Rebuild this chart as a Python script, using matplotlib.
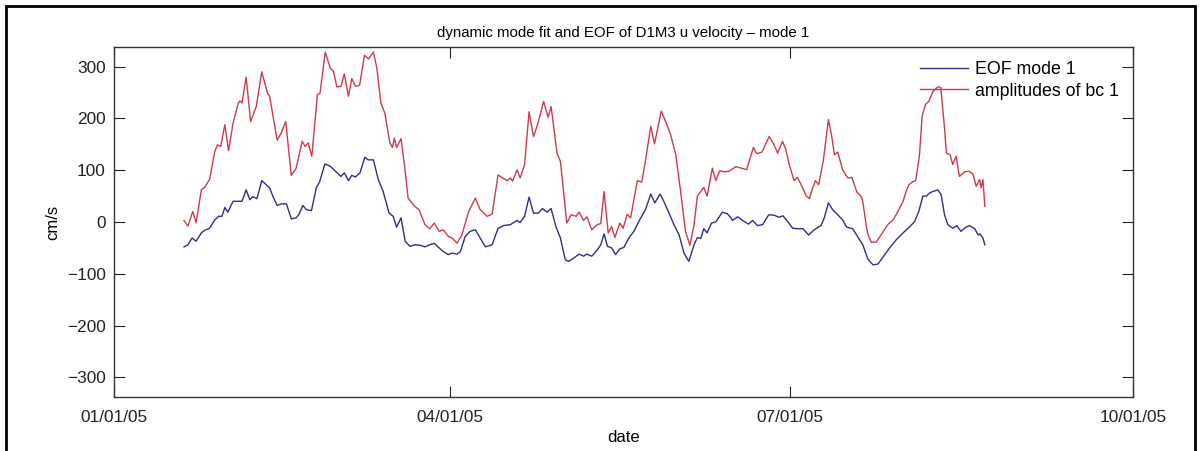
import datetime as dt
import matplotlib
matplotlib.use("Agg")
import matplotlib.pyplot as plt
import matplotlib.dates as mdates
from matplotlib.patches import Rectangle

plt.rcParams['font.family'] = ['Liberation Sans', 'DejaVu Sans']

title = "dynamic mode fit and EOF of D1M3 u velocity \u2013 mode 1"
series_names = ["EOF mode 1", "amplitudes of bc 1"]
xtick_dates = ["2005-01-01", "2005-04-01", "2005-07-01", "2005-10-01"]
yticks = [-300, -200, -100, 0, 100, 200, 300]

# days since 2005-01-01
eof_days = [18.75, 19.8, 20.9, 22.0, 23.4, 24.3, 25.6, 27.0, 28.0, 28.9, 29.7, 30.5, 31.9, 33.0,
            34.3, 35.4, 36.4, 37.2, 38.3, 39.6, 40.8, 41.7, 42.6, 43.7, 44.8, 46.2, 47.5, 48.8,
            49.5, 50.6, 51.5, 52.9, 54.2, 55.1, 56.5, 57.9, 59.2, 60.8, 61.7, 62.8, 63.7, 64.7,
            65.9, 67.2, 68.1, 69.5, 70.8, 72.1, 73.7, 74.8, 75.7, 76.9, 78.0, 79.3, 80.6, 82.0,
            83.3, 84.6, 85.8, 87.1, 88.2, 89.6, 90.6, 91.9, 92.8, 94.1, 95.4, 96.8, 98.1, 99.5,
            101.3, 102.9, 104.4, 106.2, 108.0, 108.8, 110.0, 111.2, 112.4, 113.6, 114.8, 116.0,
            117.1, 118.4, 119.6, 120.9, 121.8, 123.1, 124.6, 125.8, 126.7, 128.0, 129.5, 130.4,
            131.3, 132.2, 133.3, 134.4, 135.5, 136.6, 138.0, 139.3, 140.6, 142.4, 143.8, 144.9,
            146.3, 147.3, 148.7, 150.0, 151.4, 152.7, 154.0, 155.4, 156.3, 157.2, 158.0, 158.9,
            160.1, 161.2, 163.0, 164.3, 165.2, 165.7, 167.1, 168.4, 170.0, 171.1, 172.4, 173.8,
            175.4, 176.9, 178.2, 179.2, 180.5, 181.8, 183.1, 184.6, 186.1, 187.6, 189.4, 190.3,
            191.4, 192.5, 193.9, 195.2, 196.3, 197.9, 199.2, 200.6, 202.0, 203.4, 204.7, 206.0,
            207.8, 209.6, 211.4, 213.2, 214.5, 215.6, 216.7, 217.6, 218.5, 219.4, 220.7, 221.6,
            222.5, 223.4, 224.7, 225.8, 226.9, 228.2, 229.2, 230.6, 231.5, 232.0, 232.8, 233.3]
eof_vals = [-48, -44, -31, -37, -21, -16, -12, 4, 11, 11, 28, 19, 40, 40,
            40, 62, 43, 49, 45, 80, 72, 66, 49, 32, 35, 35, 6, 8,
            14, 32, 24, 22, 66, 78, 112, 108, 99, 88, 95, 80, 90, 87,
            95, 125, 120, 120, 82, 59, 17, 11, -10, 8, -37, -47, -44, -45,
            -48, -44, -41, -50, -57, -63, -60, -62, -57, -28, -18, -15, -31, -48,
            -44, -12, -7, -5, 3, -1, 11, 48, 17, 17, 26, 19,
            26, -9, -31, -73, -76, -70, -62, -66, -62, -66, -54, -44,
            -23, -47, -50, -63, -52, -49, -30, -18, 1, 24, 54, 37,
            54, 40, 17, -5, -25, -60, -76, -44, -30, -32, -13, -21,
            -2, 0, 19, 16, 9, 3, 10, 3, -4, 3, -7, -5,
            14, 13, 9, 12, 1, -12, -13, -13, -25, -15, -7, 8,
            37, 24, 14, 4, -10, -13, -28, -44, -72, -83, -81, -68,
            -50, -34, -21, -9, 1, 20, 50, 50, 56, 59, 62, 53,
            14, -5, -12, -7, -18, -10, -7, -13, -25, -23, -31, -44]

bc_days = [18.75, 19.8, 21.1, 22.0, 23.4, 24.3, 25.6, 27.0, 27.7, 28.6, 29.7, 30.7, 31.9, 33.2,
           33.7, 34.3, 35.4, 36.6, 38.1, 39.6, 41.1, 41.7, 43.7, 44.8, 46.0, 47.5, 48.8, 50.4,
           51.2, 52.0, 53.0, 54.5, 55.2, 56.6, 57.9, 58.8, 59.7, 60.8, 61.7, 62.8, 63.7, 64.7,
           65.8, 67.1, 68.2, 69.5, 70.4, 71.5, 72.6, 73.9, 74.6, 75.1, 75.7, 76.9, 77.8, 78.8,
           80.6, 81.7, 83.3, 84.6, 85.8, 87.1, 88.2, 89.6, 90.6, 91.9, 93.2, 95.0, 96.8, 98.1,
           99.9, 101.3, 102.9, 103.9, 105.3, 106.2, 106.8, 108.0, 108.8, 110.0, 111.2, 112.4,
           113.6, 115.1, 116.3, 117.1, 118.7, 119.6, 121.3, 122.5, 123.8, 124.6, 125.8, 126.7,
           128.0, 129.5, 130.4, 131.3, 132.4, 133.3, 134.2, 135.5, 136.4, 137.5, 138.4, 140.2,
           141.4, 142.4, 143.8, 144.8, 145.5, 146.6, 147.8, 149.1, 150.5, 151.8, 153.1, 154.3,
           155.4, 156.3, 157.2, 158.0, 158.9, 160.3, 161.2, 162.3, 163.4, 164.8, 166.6, 168.0,
           169.5, 171.3, 172.2, 173.6, 175.5, 176.7, 177.8, 179.1, 180.0, 180.9, 182.2, 183.1,
           184.3, 185.4, 186.3, 187.0, 187.9, 188.8, 190.0, 191.4, 192.3, 193.0, 193.9, 195.2,
           196.6, 197.7, 199.0, 200.1, 200.6, 201.5, 202.0, 202.9, 204.2, 205.5, 207.3, 208.7,
           210.0, 211.4, 212.2, 213.0, 214.0, 214.8, 215.8, 216.5, 217.4, 218.3, 219.4, 220.7,
           221.5, 222.5, 223.0, 224.0, 224.7, 225.6, 226.5, 227.9, 229.0, 230.1, 231.0, 231.9,
           232.3, 232.8, 233.3]
bc_vals = [3, -8, 20, -1, 62, 67, 82, 136, 149, 146, 188, 138, 191, 227,
           234, 230, 280, 194, 223, 290, 249, 243, 158, 172, 194, 90, 104, 156,
           146, 153, 127, 246, 249, 328, 298, 291, 261, 262, 286, 243, 277, 262,
           264, 322, 315, 328, 298, 230, 209, 153, 144, 162, 144, 161, 111, 46,
           30, 24, -5, -13, -2, -18, -15, -28, -31, -41, -25, 20, 46, 24,
           11, 15, 91, 86, 80, 85, 79, 101, 85, 111, 213, 165,
           191, 233, 202, 223, 133, 117, -2, 14, 11, 19, 3, 10,
           -15, -5, -3, 59, -21, -9, -30, -2, -12, 15, 8, 80,
           77, 119, 185, 151, 175, 214, 194, 169, 130, 59, -18, -45,
           -5, 50, 59, 67, 50, 104, 80, 99, 97, 98, 107, 104,
           101, 144, 132, 135, 165, 151, 133, 156, 140, 111, 80, 86,
           69, 51, 45, 62, 80, 72, 117, 198, 165, 130, 135, 101,
           85, 86, 58, 50, 40, -5, -25, -39, -39, -25, -5, 4,
           20, 40, 59, 72, 78, 80, 130, 204, 227, 233, 252, 261,
           260, 182, 133, 130, 111, 127, 88, 97, 98, 93, 69, 82,
           66, 82, 30]

start = dt.datetime(2005, 1, 1)
eof_dates = [start + dt.timedelta(days=d) for d in eof_days]
bc_dates = [start + dt.timedelta(days=d) for d in bc_days]

fig = plt.figure(figsize=(12.01, 4.51), dpi=100)
ax = fig.add_axes([114 / 1201, 1 - 397 / 451, (1133 - 114) / 1201, (397 - 47) / 451])

ax.plot(eof_dates, eof_vals, color='#2e2e8e', lw=1.0, label=series_names[0])
ax.plot(bc_dates, bc_vals, color='#d03a4a', lw=1.0, label=series_names[1])

ax.set_xlim(dt.datetime(2005, 1, 1), dt.datetime(2005, 10, 1))
ax.set_ylim(-338, 338)
ax.set_xticks([dt.datetime.strptime(s, "%Y-%m-%d") for s in xtick_dates])
ax.xaxis.set_major_formatter(mdates.DateFormatter("%m/%d/%y"))
ax.set_yticks(yticks)
ax.tick_params(direction='in', length=8, width=0.8, top=True, right=True,
               labelsize=12.4, colors='#222222', pad=6)
ax.tick_params(axis='x', pad=9)
for sp in ax.spines.values():
    sp.set_linewidth(1.0)
    sp.set_color('#333333')

ax.set_title(title, fontsize=10.8, pad=7)
ax.set_xlabel("date", fontsize=12, labelpad=4)
ax.set_ylabel("cm/s", fontsize=12, labelpad=5)

leg = ax.legend(loc='upper right', frameon=False, fontsize=12.8, handlelength=2.7,
                handletextpad=0.4, labelspacing=0.25, borderaxespad=0.4,
                bbox_to_anchor=(1.0, 1.0))

fig.patches.append(Rectangle((6 / 1201, -0.05), (1195 - 6) / 1201, 1.05 - 6 / 451,
                             transform=fig.transFigure, fill=False, lw=2.0,
                             edgecolor='black', clip_on=False))

fig.savefig("out.png", dpi=100)
